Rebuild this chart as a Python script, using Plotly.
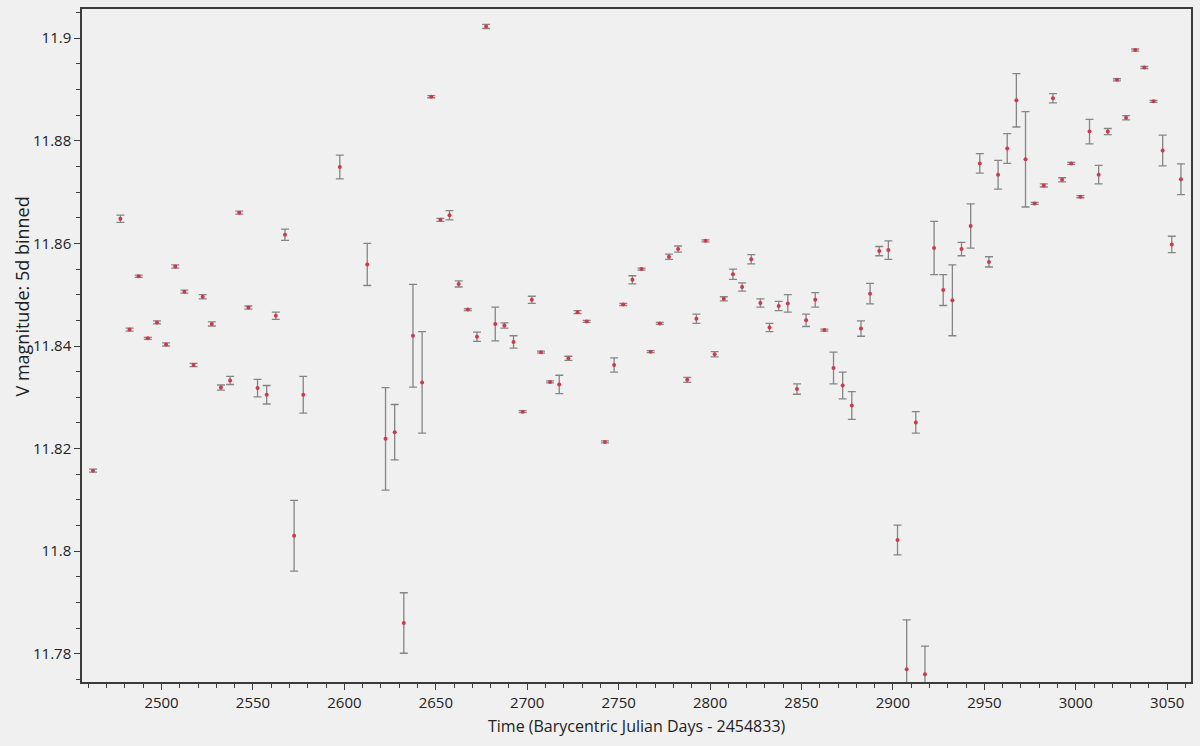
import plotly.graph_objects as go

# 5-day bin centres (BJD - 2454833)
time_bins = [
    2462.5, 2477.5, 2482.5, 2487.5, 2492.5, 2497.5, 2502.5, 2507.5, 2512.5, 2517.5,
    2522.5, 2527.5, 2532.5, 2537.5, 2542.5, 2547.5, 2552.5, 2557.5, 2562.5, 2567.5,
    2572.5, 2577.5, 2597.5, 2612.5, 2622.5, 2627.5, 2632.5, 2637.5, 2642.5, 2647.5,
    2652.5, 2657.5, 2662.5, 2667.5, 2672.5, 2677.5, 2682.5, 2687.5, 2692.5, 2697.5,
    2702.5, 2707.5, 2712.5, 2717.5, 2722.5, 2727.5, 2732.5, 2742.5, 2747.5, 2752.5,
    2757.5, 2762.5, 2767.5, 2772.5, 2777.5, 2782.5, 2787.5, 2792.5, 2797.5, 2802.5,
    2807.5, 2812.5, 2817.5, 2822.5, 2827.5, 2832.5, 2837.5, 2842.5, 2847.5, 2852.5,
    2857.5, 2862.5, 2867.5, 2872.5, 2877.5, 2882.5, 2887.5, 2892.5, 2897.5, 2902.5,
    2907.5, 2912.5, 2917.5, 2922.5, 2927.5, 2932.5, 2937.5, 2942.5, 2947.5, 2952.5,
    2957.5, 2962.5, 2967.5, 2972.5, 2977.5, 2982.5, 2987.5, 2992.5, 2997.5, 3002.5,
    3007.5, 3012.5, 3017.5, 3022.5, 3027.5, 3032.5, 3037.5, 3042.5, 3047.5, 3052.5,
    3057.5,
]

v_mag = [
    11.8157, 11.8648, 11.8432, 11.8536, 11.8415, 11.8446, 11.8403, 11.8555, 11.8506, 11.8363,
    11.8496, 11.8443, 11.8319, 11.8333, 11.8660, 11.8475, 11.8318, 11.8305, 11.8459, 11.8617,
    11.8030, 11.8305, 11.8749, 11.8559, 11.8219, 11.8232, 11.7860, 11.8420, 11.8329, 11.8886,
    11.8646, 11.8655, 11.8521, 11.8471, 11.8418, 11.9023, 11.8443, 11.8440, 11.8408, 11.8272,
    11.8490, 11.8388, 11.8330, 11.8325, 11.8376, 11.8466, 11.8448, 11.8213, 11.8363, 11.8481,
    11.8529, 11.8550, 11.8389, 11.8444, 11.8574, 11.8589, 11.8334, 11.8453, 11.8605, 11.8384,
    11.8492, 11.8540, 11.8515, 11.8569, 11.8484, 11.8436, 11.8478, 11.8483, 11.8316, 11.8450,
    11.8490, 11.8431, 11.8357, 11.8323, 11.8284, 11.8434, 11.8502, 11.8585, 11.8587, 11.8022,
    11.7770, 11.8251, 11.7760, 11.8591, 11.8509, 11.8489, 11.8589, 11.8634, 11.8756, 11.8564,
    11.8734, 11.8785, 11.8879, 11.8764, 11.8678, 11.8713, 11.8883, 11.8724, 11.8756, 11.8691,
    11.8818, 11.8734, 11.8818, 11.8919, 11.8845, 11.8977, 11.8943, 11.8877, 11.8781, 11.8598,
    11.8725,
]

v_err = [
    0.0003, 0.0007, 0.0003, 0.0002, 0.0002, 0.0003, 0.0003, 0.0003, 0.0003, 0.0003,
    0.0004, 0.0004, 0.0005, 0.0008, 0.0003, 0.0003, 0.0017, 0.0018, 0.0007, 0.0011,
    0.0069, 0.0036, 0.0023, 0.0041, 0.0100, 0.0054, 0.0059, 0.0100, 0.0099, 0.0002,
    0.0003, 0.0009, 0.0006, 0.0002, 0.0009, 0.0004, 0.0033, 0.0005, 0.0012, 0.0002,
    0.0007, 0.0002, 0.0002, 0.0018, 0.0004, 0.0003, 0.0002, 0.0002, 0.0014, 0.0002,
    0.0008, 0.0002, 0.0002, 0.0002, 0.0005, 0.0006, 0.0005, 0.0009, 0.0002, 0.0005,
    0.0004, 0.0010, 0.0008, 0.0009, 0.0008, 0.0008, 0.0009, 0.0017, 0.0010, 0.0012,
    0.0014, 0.0002, 0.0031, 0.0026, 0.0027, 0.0015, 0.0020, 0.0009, 0.0018, 0.0029,
    0.0096, 0.0021, 0.0055, 0.0052, 0.0030, 0.0069, 0.0013, 0.0043, 0.0019, 0.0010,
    0.0028, 0.0029, 0.0052, 0.0093, 0.0002, 0.0003, 0.0009, 0.0004, 0.0002, 0.0002,
    0.0024, 0.0018, 0.0006, 0.0002, 0.0004, 0.0002, 0.0002, 0.0002, 0.0030, 0.0016,
    0.0030,
]

axis_color = "#3c3c3c"
font_family = "Open Sans, Noto Sans, sans-serif"

fig = go.Figure()
fig.add_trace(go.Scatter(
    x=time_bins, y=v_mag, mode="markers",
    marker=dict(size=4, color="#d0384c"),
    error_y=dict(type="data", array=v_err, visible=True,
                 color="#858585", thickness=1.3, width=4),
    hoverinfo="x+y",
))

fig.update_layout(
    width=1200, height=746,
    margin=dict(l=82, r=7, t=7, b=64),
    paper_bgcolor="#f0f0f0", plot_bgcolor="#f0f0f0",
    font=dict(family=font_family, size=15, color="#222"),
    showlegend=False,
    xaxis=dict(
        range=[2456.5, 3063], tick0=2500, dtick=50,
        showgrid=False, zeroline=False,
        showline=True, linecolor=axis_color, linewidth=1.5, mirror=True,
        ticks="outside", ticklen=6, tickcolor=axis_color, tickwidth=1,
        minor=dict(dtick=10, ticks="outside", ticklen=4, tickcolor=axis_color, showgrid=False),
        tickfont=dict(size=15, color="#222"),
    ),
    yaxis=dict(
        range=[11.7745, 11.9057], tick0=11.78, dtick=0.02,
        showgrid=False, zeroline=False,
        showline=True, linecolor=axis_color, linewidth=1.5, mirror=True,
        ticks="outside", ticklen=6, tickcolor=axis_color, tickwidth=1,
        minor=dict(dtick=0.005, ticks="outside", ticklen=4, tickcolor=axis_color, showgrid=False),
        tickfont=dict(size=15, color="#222"),
    ),
    annotations=[
        dict(text="Time (Barycentric Julian Days - 2454833)", xref="paper", yref="paper",
             x=0.5, y=-0.066, xanchor="center", yanchor="middle", showarrow=False,
             font=dict(size=16, color="#222")),
        dict(text="V magnitude: 5d binned", xref="paper", yref="paper",
             x=-0.054, y=0.573, xanchor="center", yanchor="middle", textangle=-90,
             showarrow=False, font=dict(size=18, color="#222")),
    ],
)

# drop the browser's default body margin so the 1200x746 figure fills the window
fig.write_html(
    "out.html",
    config={"displayModeBar": False},
    post_script="document.body.style.margin='0';document.body.style.overflow='hidden';",
)
